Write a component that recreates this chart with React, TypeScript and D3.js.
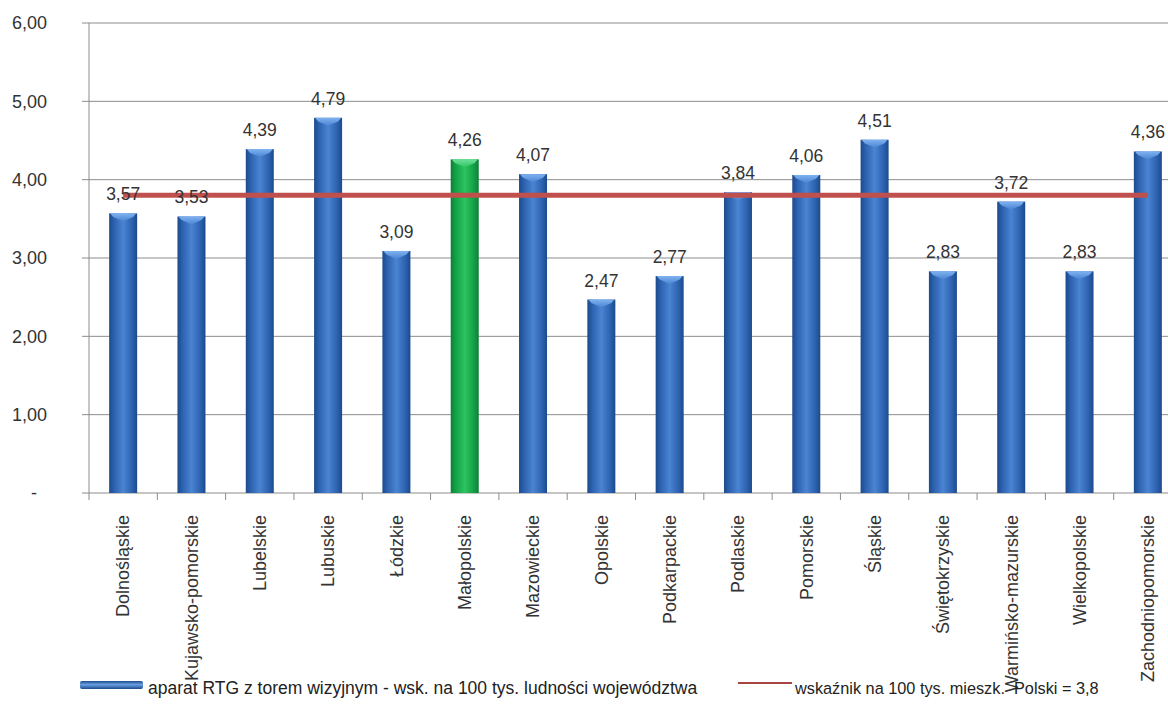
import React from "react";
import * as d3 from "d3";

// Województwa (provinces) in chart order
const regions: string[] = [
  "Dolnośląskie",
  "Kujawsko-pomorskie",
  "Lubelskie",
  "Lubuskie",
  "Łódzkie",
  "Małopolskie",
  "Mazowieckie",
  "Opolskie",
  "Podkarpackie",
  "Podlaskie",
  "Pomorskie",
  "Śląskie",
  "Świętokrzyskie",
  "Warmińsko-mazurskie",
  "Wielkopolskie",
  "Zachodniopomorskie",
];

// X-ray units with image intensifier per 100k inhabitants
const rtgRate: number[] = [
  3.57, 3.53, 4.39, 4.79, 3.09, 4.26, 4.07, 2.47, 2.77, 3.84, 4.06, 4.51, 2.83,
  3.72, 2.83, 4.36,
];

// Region shown in green
const highlighted: string[] = ["Małopolskie"];

// National reference value
const polandRate = 3.8;

const yTicks: number[] = [0, 1, 2, 3, 4, 5, 6];

const barLegend = "aparat RTG z torem wizyjnym - wsk. na 100 tys. ludności województwa";

const W = 1168;
const H = 724;
const left = 89;
const right = 1182;
const top = 23;
const bottom = 493;

const fmt2 = (v: number) => (v === 0 ? "-" : d3.format(".2f")(v).replace(".", ","));
const fmt1 = (v: number) => d3.format(".1f")(v).replace(".", ",");

const FONT = "'Liberation Sans', Arial, sans-serif";

export default function App() {
  const x = d3
    .scaleBand<string>()
    .domain(regions)
    .range([left, right])
    .paddingInner(0.59)
    .paddingOuter(0.295);
  const y = d3.scaleLinear().domain([0, 6]).range([bottom, top]);
  const bw = x.bandwidth();
  const step = x.step();

  const first = regions[0];
  const last = regions[regions.length - 1];
  const lineData: [number, number][] = [
    [x(first)! + bw / 2, polandRate],
    [x(last)! + bw / 2, polandRate],
  ];
  const avgLine = d3
    .line<[number, number]>()
    .x((d) => d[0])
    .y((d) => y(d[1]));

  const boundaries = d3.range(regions.length + 1).map((i) => left + i * step);

  return (
    <svg
      width={W}
      height={H}
      style={{ position: "absolute", left: 0, top: 0, background: "#fff" }}
      fontFamily={FONT}
    >
      <defs>
        <linearGradient id="gBlue" x1="0" x2="1" y1="0" y2="0">
          <stop offset="0" stopColor="#1c4a8c" />
          <stop offset="0.18" stopColor="#2d62b0" />
          <stop offset="0.5" stopColor="#4a84d2" />
          <stop offset="0.82" stopColor="#2d62b0" />
          <stop offset="1" stopColor="#1c4a8c" />
        </linearGradient>
        <linearGradient id="gBlueCap" x1="0" x2="0" y1="0" y2="1">
          <stop offset="0" stopColor="#7fb2f0" />
          <stop offset="1" stopColor="#4a84d2" />
        </linearGradient>
        <linearGradient id="gGreen" x1="0" x2="1" y1="0" y2="0">
          <stop offset="0" stopColor="#0b7f35" />
          <stop offset="0.18" stopColor="#14a146" />
          <stop offset="0.5" stopColor="#2cc460" />
          <stop offset="0.82" stopColor="#14a146" />
          <stop offset="1" stopColor="#0b7f35" />
        </linearGradient>
        <linearGradient id="gGreenCap" x1="0" x2="0" y1="0" y2="1">
          <stop offset="0" stopColor="#6fe09a" />
          <stop offset="1" stopColor="#2cc460" />
        </linearGradient>
        <linearGradient id="gLegend" x1="0" x2="0" y1="0" y2="1">
          <stop offset="0" stopColor="#1c4a8c" />
          <stop offset="0.45" stopColor="#6a9fe2" />
          <stop offset="1" stopColor="#1c4a8c" />
        </linearGradient>
      </defs>

      {/* horizontal gridlines with left tick marks */}
      {yTicks.map((t) => (
        <g key={t}>
          <line x1={left - 7} x2={W} y1={y(t)} y2={y(t)} stroke="#8c8c8c" strokeWidth={1} />
          <text
            x={t === 0 ? 37 : 47}
            y={y(t)}
            dy="0.35em"
            textAnchor="end"
            fontSize={18}
            fill="#333"
          >
            {fmt2(t)}
          </text>
        </g>
      ))}

      {/* value axis line */}
      <line x1={left} x2={left} y1={top} y2={bottom} stroke="#8c8c8c" strokeWidth={1} />

      {/* category tick marks */}
      {boundaries.map((bx, i) => (
        <line key={i} x1={bx} x2={bx} y1={bottom} y2={bottom + 7} stroke="#8c8c8c" strokeWidth={1} />
      ))}

      {/* bars and category labels */}
      {regions.map((r, i) => {
        const v = rtgRate[i];
        const bx = x(r)!;
        const by = y(v);
        const hi = highlighted.includes(r);
        const cap = 8;
        return (
          <g key={r}>
            <rect
              x={bx}
              y={by}
              width={bw}
              height={bottom - by}
              fill={hi ? "url(#gGreen)" : "url(#gBlue)"}
            />
            <path
              d={`M${bx + 1},${by} L${bx + bw - 1},${by} L${bx + bw - 4},${by + cap * 0.45} L${bx + bw / 2},${by + cap} L${bx + 4},${by + cap * 0.45} Z`}
              fill={hi ? "url(#gGreenCap)" : "url(#gBlueCap)"}
            />
            <text
              transform={`translate(${bx + bw / 2},515) rotate(-90)`}
              dy="0.35em"
              textAnchor="end"
              fontSize={18}
              fill="#333"
            >
              {r}
            </text>
          </g>
        );
      })}

      {/* national average line */}
      <path d={avgLine(lineData) ?? ""} stroke="#c0504d" strokeWidth={5} fill="none" />

      {/* value labels above bars */}
      {regions.map((r, i) => (
        <text
          key={r}
          x={x(r)! + bw / 2}
          y={y(rtgRate[i]) - 13}
          textAnchor="middle"
          fontSize={17.5}
          fill="#333"
        >
          {fmt2(rtgRate[i])}
        </text>
      ))}

      {/* legend */}
      <rect x={80} y={681} width={63} height={8} rx={2} fill="url(#gLegend)" />
      <text x={148} y={694} fontSize={17.5} fill="#222">
        {barLegend}
      </text>
      <line x1={738} x2={792} y1={683} y2={683} stroke="#a84542" strokeWidth={2} />
      <text x={795} y={694} fontSize={16.3} fill="#222" style={{ whiteSpace: "pre" }}>
        {`wskaźnik na 100 tys. mieszk.  Polski = ${fmt1(polandRate)}`}
      </text>
    </svg>
  );
}
